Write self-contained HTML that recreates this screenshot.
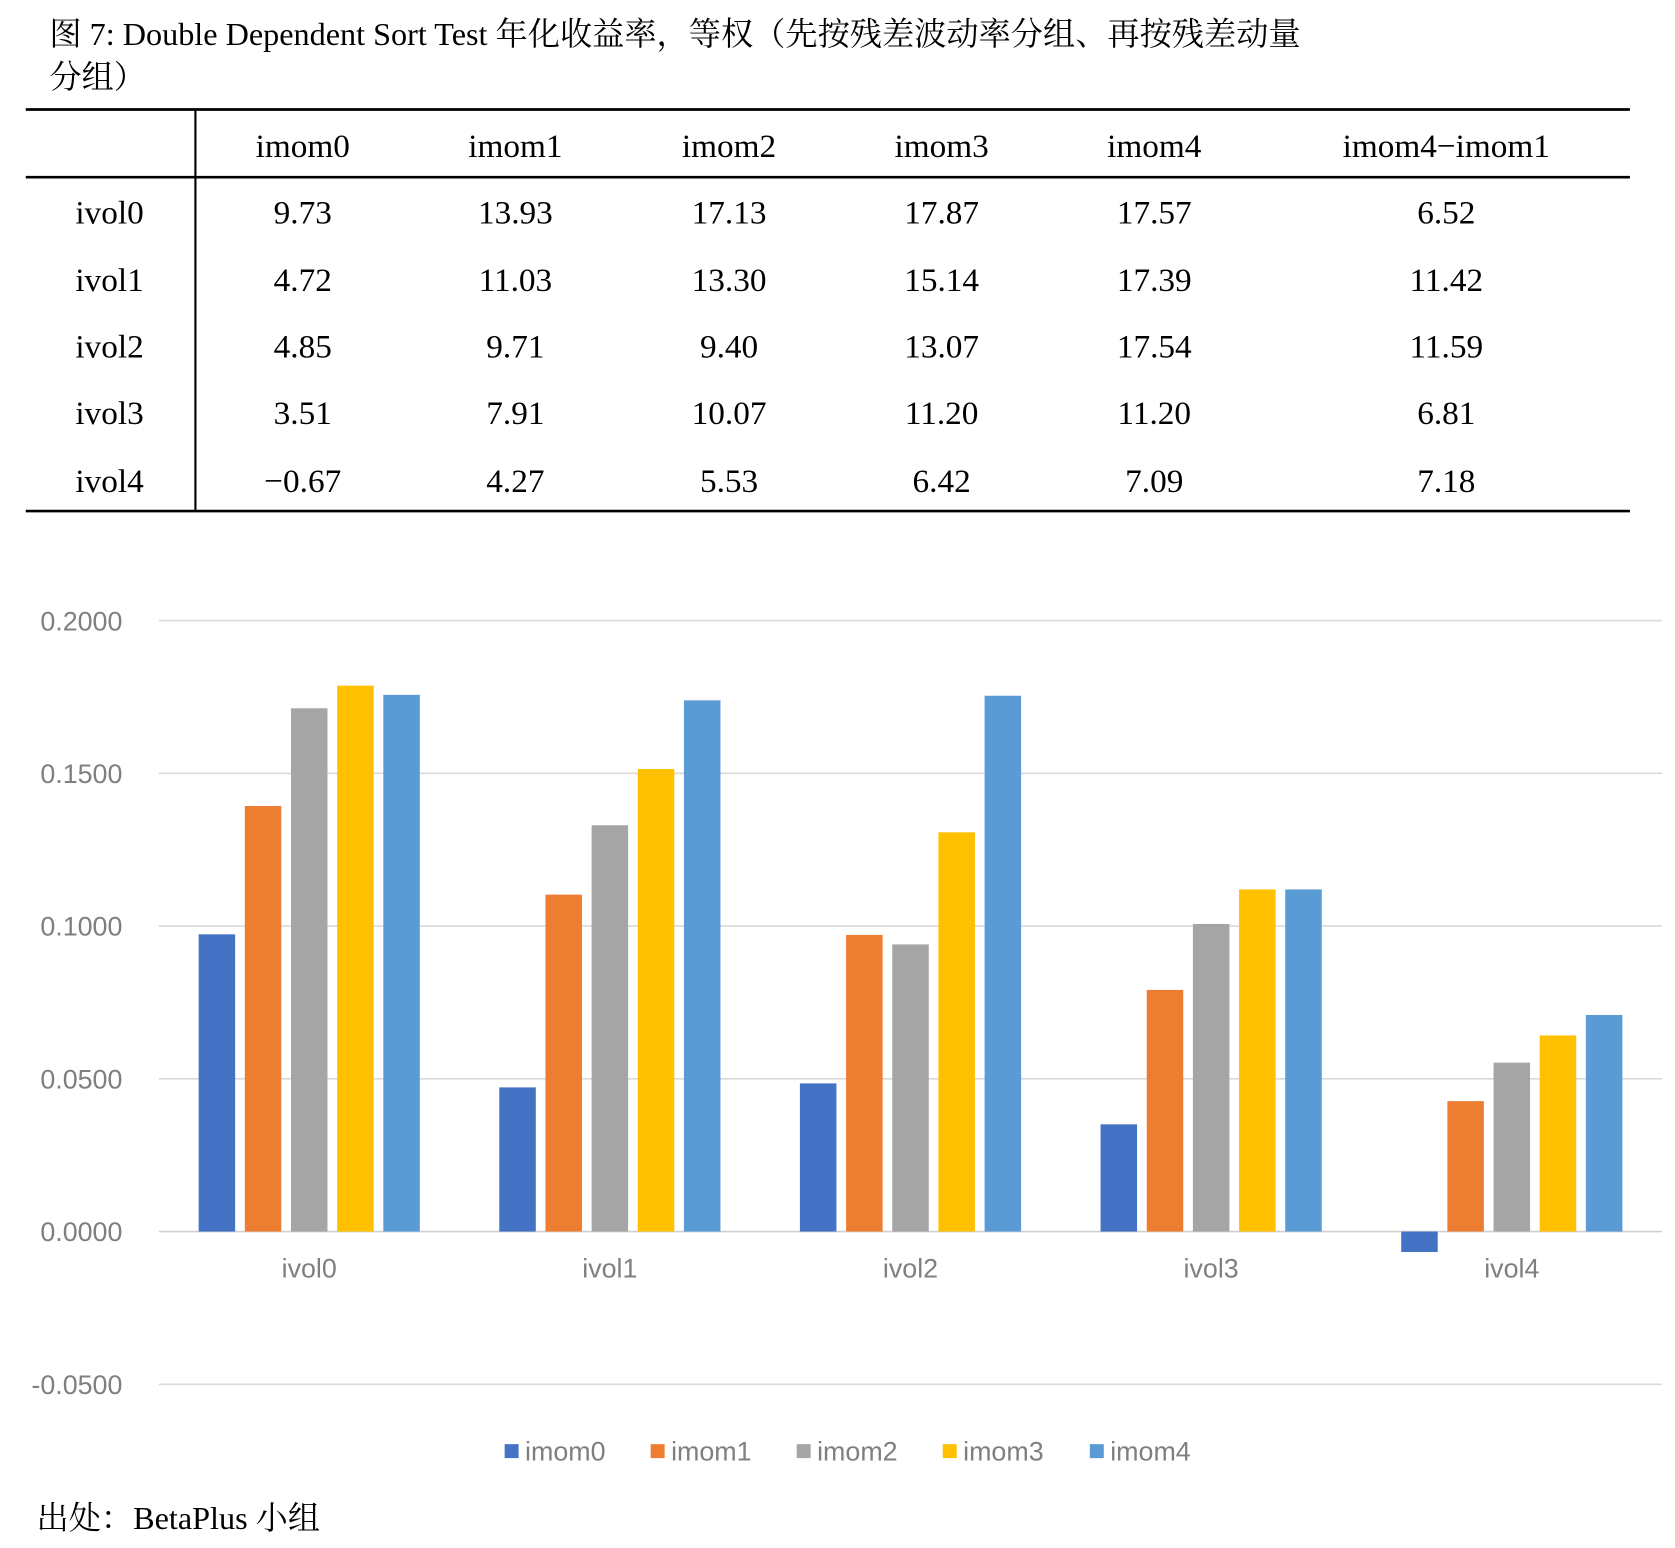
<!DOCTYPE html>
<html><head><meta charset="utf-8"><style>
html,body{margin:0;padding:0;background:#fff;}
body{width:1675px;height:1543px;overflow:hidden;}
#wrap{position:absolute;left:0;top:0;width:1560px;height:1437px;transform:scale(1.07372);transform-origin:0 0;}
.serif{font-family:"Liberation Serif","Noto Serif CJK SC",serif;color:#000;}
</style></head><body>
<div id="wrap">
<svg width="1560" height="1437" viewBox="0 0 1560 1437" xmlns="http://www.w3.org/2000/svg" id="svg">
<g font-family="Liberation Serif, Noto Serif CJK SC, serif" font-size="30" fill="#000">
<text x="46" y="42">图 7: Double Dependent Sort Test 年化收益率，等权（先按残差波动率分组、再按残差动量</text>
<text x="46" y="82">分组）</text>
</g>
<g id="table" font-family="Liberation Serif, serif" font-size="31" fill="#000" text-anchor="middle"></g>
<g id="chart"></g>
<text x="34" y="1424" font-family="Liberation Serif, Noto Serif CJK SC, serif" font-size="30" fill="#000">出处：BetaPlus 小组</text>
</svg>
</div>
<script>
const categories = ["ivol0","ivol1","ivol2","ivol3","ivol4"];
const seriesNames = ["imom0","imom1","imom2","imom3","imom4"];
const imom0 = [9.73,4.72,4.85,3.51,-0.67];
const imom1 = [13.93,11.03,9.71,7.91,4.27];
const imom2 = [17.13,13.30,9.40,10.07,5.53];
const imom3 = [17.87,15.14,13.07,11.20,6.42];
const imom4 = [17.57,17.39,17.54,11.20,7.09];
const spread = [6.52,11.42,11.59,6.81,7.18];
const yTicks = [0.2,0.15,0.1,0.05,0,-0.05];
const tickLabels = ["0.2000","0.1500","0.1000","0.0500","0.0000","-0.0500"];
const colors = ["#4472C4","#ED7D31","#A5A5A5","#FFC000","#5B9BD5"];
const NS = "http://www.w3.org/2000/svg";
function mk(tag, attrs, parent){const e=document.createElementNS(NS,tag);for(const k in attrs)e.setAttribute(k,attrs[k]);parent.appendChild(e);return e;}

// table
const tb=document.getElementById('table');
const colX=[102,282,480,679,877,1075,1347];
const rowY=[197,260,322,384,447];
[[24,102,1518,102,2.5],[24,165,1518,165,2.5],[24,476,1518,476,2.5],[182,102,182,476,2]].forEach(l=>{
 const e=mk('line',{x1:l[0],y1:l[1],x2:l[2],y2:l[3],stroke:'#000','stroke-width':l[4]},tb);
 
 
});
const headers=seriesNames.concat(["imom4−imom1"]);
headers.forEach((h,i)=>{const t=mk('text',{x:colX[i+1],y:146},tb);t.textContent=h;
 
 });
const allSeries=[imom0,imom1,imom2,imom3,imom4,spread];
const fmt=v=>(v<0?"−":"")+Math.abs(v).toFixed(2);
categories.forEach((c,r)=>{
 const t=mk('text',{x:colX[0],y:rowY[r]+11},tb);t.textContent=c;
 
 
 allSeries.forEach((s,j)=>{const v=mk('text',{x:colX[j+1],y:rowY[r]+11},tb);v.textContent=fmt(s[r]);
  
  });
});

// chart
const ch=document.getElementById('chart');
const x0=148,x1=1548,yTop=578,yZero=1147;
const yScale=v=>yZero-(v/0.2)*(yZero-yTop);
const catW=(x1-x0)/categories.length;
const barW=34,step=43;
yTicks.forEach((t,i)=>{
 const y=yScale(t);
 const g=mk('line',{x1:x0,y1:y,x2:x1,y2:y,stroke:t===0?'#d0d0d0':'#d9d9d9','stroke-width':1.5},ch);
 
 
 const l=mk('text',{x:114,y:y+9,'text-anchor':'end','font-family':'Liberation Sans, sans-serif','font-size':25,fill:'#7f7f7f'},ch);
 l.textContent=tickLabels[i];
 
 
});
const data=[imom0,imom1,imom2,imom3,imom4];
categories.forEach((c,ci)=>{
 const cx=x0+catW*(ci+0.5);
 data.forEach((s,si)=>{
  const v=s[ci]/100;
  const bx=cx-2*step-barW/2+si*step;
  const y=Math.min(yScale(v),yZero),h=Math.abs(yScale(v)-yZero);
  const b=mk('rect',{x:bx,y:y,width:barW,height:h,fill:colors[si]},ch);
  
  
 });
 const l=mk('text',{x:cx,y:1190,'text-anchor':'middle','font-family':'Liberation Sans, sans-serif','font-size':25,fill:'#7f7f7f'},ch);
 l.textContent=c;
 
 
});
const legX=[470,606,742,878,1015];
seriesNames.forEach((n,i)=>{
 const g=mk('g',{},ch);
 
 
 mk('rect',{x:legX[i],y:1345,width:13,height:13,fill:colors[i]},g);
 const t=mk('text',{x:legX[i]+19,y:1360,'font-family':'Liberation Sans, sans-serif','font-size':25,fill:'#7f7f7f'},g);
 t.textContent=n;
});
</script>
</body></html>
